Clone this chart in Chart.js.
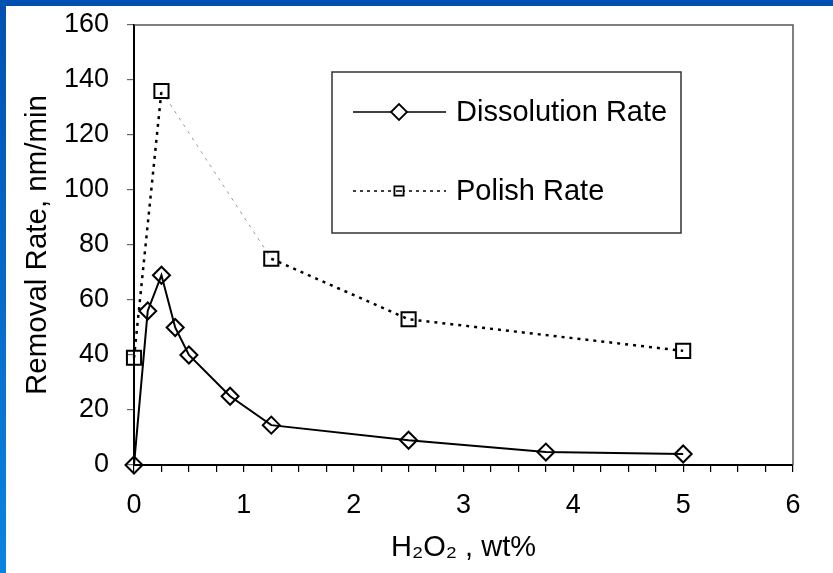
<!DOCTYPE html>
<html>
<head>
<meta charset="utf-8">
<script src="https://cdn.jsdelivr.net/npm/chart.js@4/dist/chart.umd.min.js"></script>
<style>
  html, body { margin: 0; padding: 0; }
  #frame { position: absolute; left: 0; top: 0; width: 833px; height: 573px; background: #0050b2; }
  #leftband { position: absolute; left: 0; top: 0; width: 6px; height: 573px;
    background: linear-gradient(to bottom, #0050b2, #0a84e2); }
  #paper { position: absolute; left: 6px; top: 6px; right: 0; bottom: 0; background: #fff; }
  #chartCanvas { position: absolute; left: 0; top: 0; }
</style>
</head>
<body>
<div id="frame">
  <div id="leftband"></div>
  <div id="paper"></div>
  <canvas id="chartCanvas" width="833" height="573"></canvas>
</div>
<script>
// H2O2 concentration (wt%) and measured rates (nm/min)
const dissolutionX = [0, 0.125, 0.25, 0.375, 0.5, 0.875, 1.25, 2.5, 3.75, 5];
const dissolutionY = [0, 56, 69, 50, 40, 25, 14.5, 9, 4.7, 4];
const polishX = [0, 0.25, 1.25, 2.5, 5];
const polishY = [39, 136, 75, 53, 41.5];
const seriesNames = ["Dissolution Rate", "Polish Rate"];
const yTicks = [0, 20, 40, 60, 80, 100, 120, 140, 160];
const xTicks = [0, 1, 2, 3, 4, 5, 6];

const FONT = "'Liberation Sans', Arial, sans-serif";

function toPoints(xs, ys) {
  return xs.map((x, i) => ({ x: x, y: ys[i] }));
}

// gray top/right frame of the plot area
const plotFrame = {
  id: "plotFrame",
  beforeDatasetsDraw(chart) {
    const { ctx, chartArea: a } = chart;
    ctx.save();
    ctx.strokeStyle = "#555";
    ctx.lineWidth = 1.5;
    ctx.beginPath();
    ctx.moveTo(a.left, a.top);
    ctx.lineTo(a.right, a.top);
    ctx.lineTo(a.right, a.bottom);
    ctx.stroke();
    ctx.restore();
  },
};

// boxed legend inside the plot
const boxLegend = {
  id: "boxLegend",
  afterDraw(chart) {
    const ctx = chart.ctx;
    const box = { x: 332, y: 72, w: 349, h: 161 };
    ctx.save();
    ctx.fillStyle = "#fff";
    ctx.fillRect(box.x, box.y, box.w, box.h);
    ctx.strokeStyle = "#333";
    ctx.lineWidth = 1.5;
    ctx.strokeRect(box.x, box.y, box.w, box.h);

    const rows = [
      { y: 112, dash: [], style: "rectRot", r: 8 },
      { y: 191, dash: [3, 4], style: "rect", r: 6.5 },
    ];
    rows.forEach((row, i) => {
      ctx.strokeStyle = "#000";
      ctx.lineWidth = 1.5;
      ctx.setLineDash(row.dash);
      ctx.beginPath();
      ctx.moveTo(353, row.y);
      ctx.lineTo(446, row.y);
      ctx.stroke();
      ctx.setLineDash([]);
      ctx.lineWidth = 1.8;
      ctx.fillStyle = "#fff";
      Chart.helpers.drawPoint(ctx, { pointStyle: row.style, radius: row.r, borderWidth: 1.8 }, 399, row.y);
      if (row.style === "rect") {
        ctx.beginPath();
        ctx.moveTo(396, row.y);
        ctx.lineTo(402, row.y);
        ctx.lineWidth = 1.5;
        ctx.stroke();
      }
      ctx.fillStyle = "#000";
      ctx.font = "29px " + FONT;
      ctx.textBaseline = "middle";
      ctx.textAlign = "left";
      ctx.fillText(seriesNames[i], 456, row.y + 1);
    });
    ctx.restore();
  },
};

const ctx = document.getElementById("chartCanvas").getContext("2d");
new Chart(ctx, {
  type: "line",
  data: {
    datasets: [
      {
        label: seriesNames[0],
        data: toPoints(dissolutionX, dissolutionY),
        borderColor: "#000",
        borderWidth: 2,
        pointStyle: "rectRot",
        pointRadius: 8.5,
        pointBorderWidth: 2,
        pointBorderColor: "#000",
        pointBackgroundColor: "rgba(0,0,0,0)",
        tension: 0,
        clip: false,
      },
      {
        label: seriesNames[1],
        data: toPoints(polishX, polishY),
        borderColor: "#000",
        borderWidth: 2.5,
        borderDash: [3, 5],
        pointStyle: "rect",
        pointRadius: 10,
        pointBorderWidth: 2,
        pointBorderColor: "#000",
        pointBackgroundColor: "rgba(0,0,0,0)",
        tension: 0,
        clip: false,
        segment: {
          borderColor: (c) => (c.p0DataIndex === 1 ? "#999" : undefined),
          borderWidth: (c) => (c.p0DataIndex === 1 ? 1 : undefined),
        },
      },
    ],
  },
  options: {
    responsive: false,
    animation: false,
    events: [],
    layout: { padding: { top: 25, right: 40, left: 0, bottom: 0 } },
    plugins: {
      legend: { display: false },
      tooltip: { enabled: false },
    },
    scales: {
      x: {
        type: "linear",
        min: 0,
        max: 6,
        afterBuildTicks(scale) {
          const t = [];
          for (let i = 0; i <= 24; i++) t.push({ value: i / 4 });
          scale.ticks = t;
        },
        afterFit(scale) {
          scale.height = 108;
          scale.paddingLeft = 0;
          scale.paddingRight = 0;
        },
        ticks: {
          autoSkip: false,
          maxRotation: 0,
          padding: 17,
          color: "#000",
          font: { family: FONT, size: 27 },
          callback: (v) => (xTicks.includes(v) ? String(v) : ""),
        },
        grid: { drawOnChartArea: false, drawTicks: true, tickLength: 7, color: "#000", lineWidth: 1.2 },
        border: { color: "#000", width: 2 },
        title: {
          display: true,
          text: "H\u2082O\u2082 , wt%",
          color: "#000",
          font: { family: FONT, size: 29 },
          padding: { top: 0, bottom: 8 },
        },
      },
      y: {
        min: 0,
        max: 160,
        afterBuildTicks(scale) { scale.ticks = yTicks.map((v) => ({ value: v })); },
        afterFit(scale) {
          scale.width = 134;
          scale.paddingTop = 0;
          scale.paddingBottom = 0;
        },
        ticks: {
          padding: 18,
          color: "#000",
          font: { family: FONT, size: 27 },
        },
        grid: { drawOnChartArea: false, drawTicks: true, tickLength: 7, color: "#666", lineWidth: 1.2 },
        border: { color: "#000", width: 2 },
        title: {
          display: true,
          text: "Removal Rate, nm/min",
          color: "#000",
          font: { family: FONT, size: 29.5 },
          padding: { top: 20, bottom: 0 },
        },
      },
    },
  },
  plugins: [plotFrame, boxLegend],
});
</script>
</body>
</html>
